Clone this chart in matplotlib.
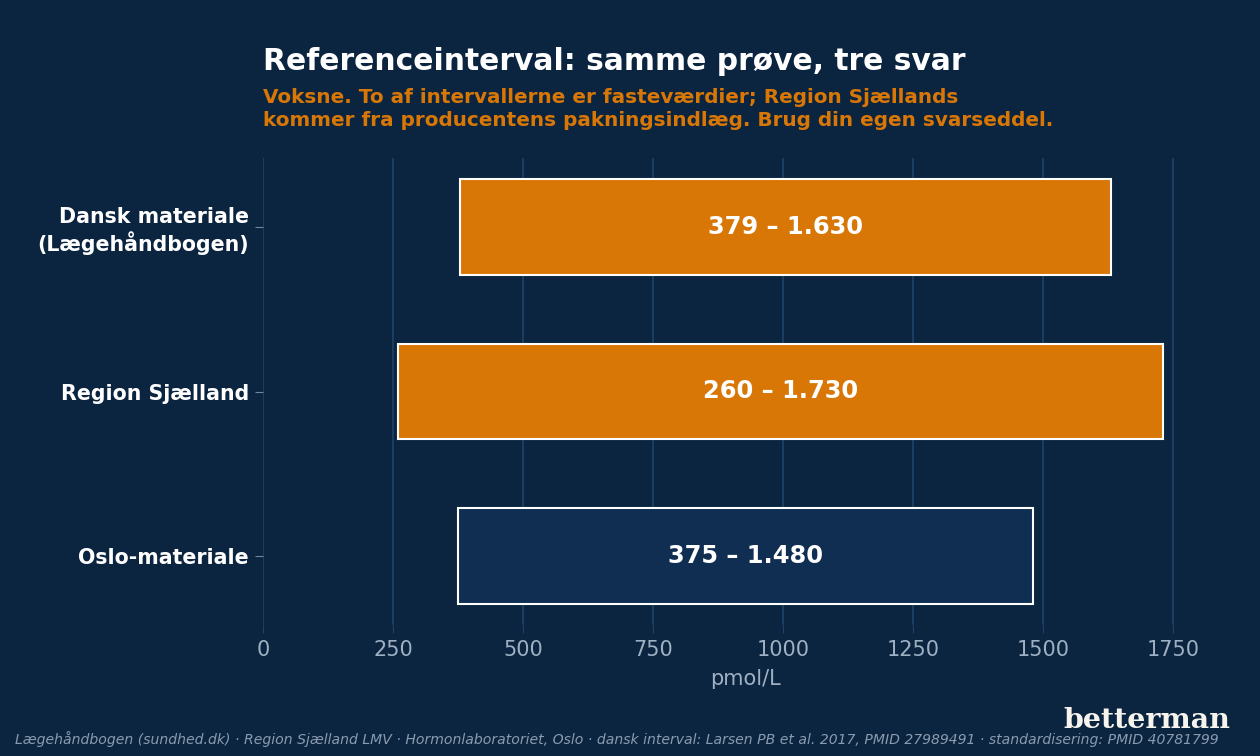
import matplotlib.pyplot as plt

# Referenceintervaller (pmol/L)
labels = ["Dansk materiale\n(Lægehåndbogen)", "Region Sjælland", "Oslo-materiale"]
lows = [379, 260, 375]
highs = [1630, 1730, 1480]
bar_texts = ["379 – 1.630", "260 – 1.730", "375 – 1.480"]
bar_colors = ["#d97706", "#d97706", "#0f2e52"]

bg = "#0b2540"
grid_col = "#1f4268"
tick_col = "#9fb0c3"

fig = plt.figure(figsize=(12.6, 7.56), dpi=100, facecolor=bg)
ax = fig.add_axes([263 / 1260, 1 - 625 / 756, (1227 - 263) / 1260, (625 - 158) / 756])
ax.set_facecolor(bg)

ypos = list(range(len(labels)))
widths = [h - l for l, h in zip(lows, highs)]
ax.barh(ypos, widths, left=lows, height=0.58, color=bar_colors,
        edgecolor="white", linewidth=1.5, zorder=3)

for y, l, h, t in zip(ypos, lows, highs, bar_texts):
    ax.text((l + h) / 2, y, t, ha="center", va="center", color="white",
            fontsize=17.4, fontweight="bold", zorder=4)

ax.set_xlim(0, 1854)
ax.set_ylim(2.42, -0.42)
ax.set_yticks(ypos)
ax.set_yticklabels(labels, color="white", fontsize=14.8, fontweight="bold")
ax.set_xticks([0, 250, 500, 750, 1000, 1250, 1500, 1750])
ax.tick_params(axis="x", colors=tick_col, labelsize=15, length=6, color=grid_col, pad=5)
ax.tick_params(axis="y", length=6, color="#6f86a0", pad=4)
ax.xaxis.grid(True, color=grid_col, linewidth=1.2, zorder=0)
ax.set_axisbelow(True)
for s in ax.spines.values():
    s.set_visible(False)
ax.set_xlabel("pmol/L", color=tick_col, fontsize=15, labelpad=6)

fig.text(263 / 1260, 1 - 62 / 756, "Referenceinterval: samme prøve, tre svar",
         color="white", fontsize=21.4, fontweight="bold", va="center", ha="left")
fig.text(263 / 1260, 1 - 109 / 756,
         "Voksne. To af intervallerne er fasteværdier; Region Sjællands\n"
         "kommer fra producentens pakningsindlæg. Brug din egen svarseddel.",
         color="#d97706", fontsize=14.4, fontweight="bold", va="center", ha="left",
         linespacing=1.3)

fig.text(1230 / 1260, 1 - 720 / 756, "betterman", color="#f7f4ee", fontsize=20.5,
         fontweight="bold", family="DejaVu Serif", ha="right", va="center")
fig.text(15 / 1260, 1 - 739 / 756,
         "Lægehåndbogen (sundhed.dk) · Region Sjælland LMV · Hormonlaboratoriet, Oslo · "
         "dansk interval: Larsen PB et al. 2017, PMID 27989491 · standardisering: PMID 40781799",
         color="#8a9bb0", fontsize=10.1, style="italic", ha="left", va="center")

fig.savefig("out.png", dpi=100, facecolor=bg)
